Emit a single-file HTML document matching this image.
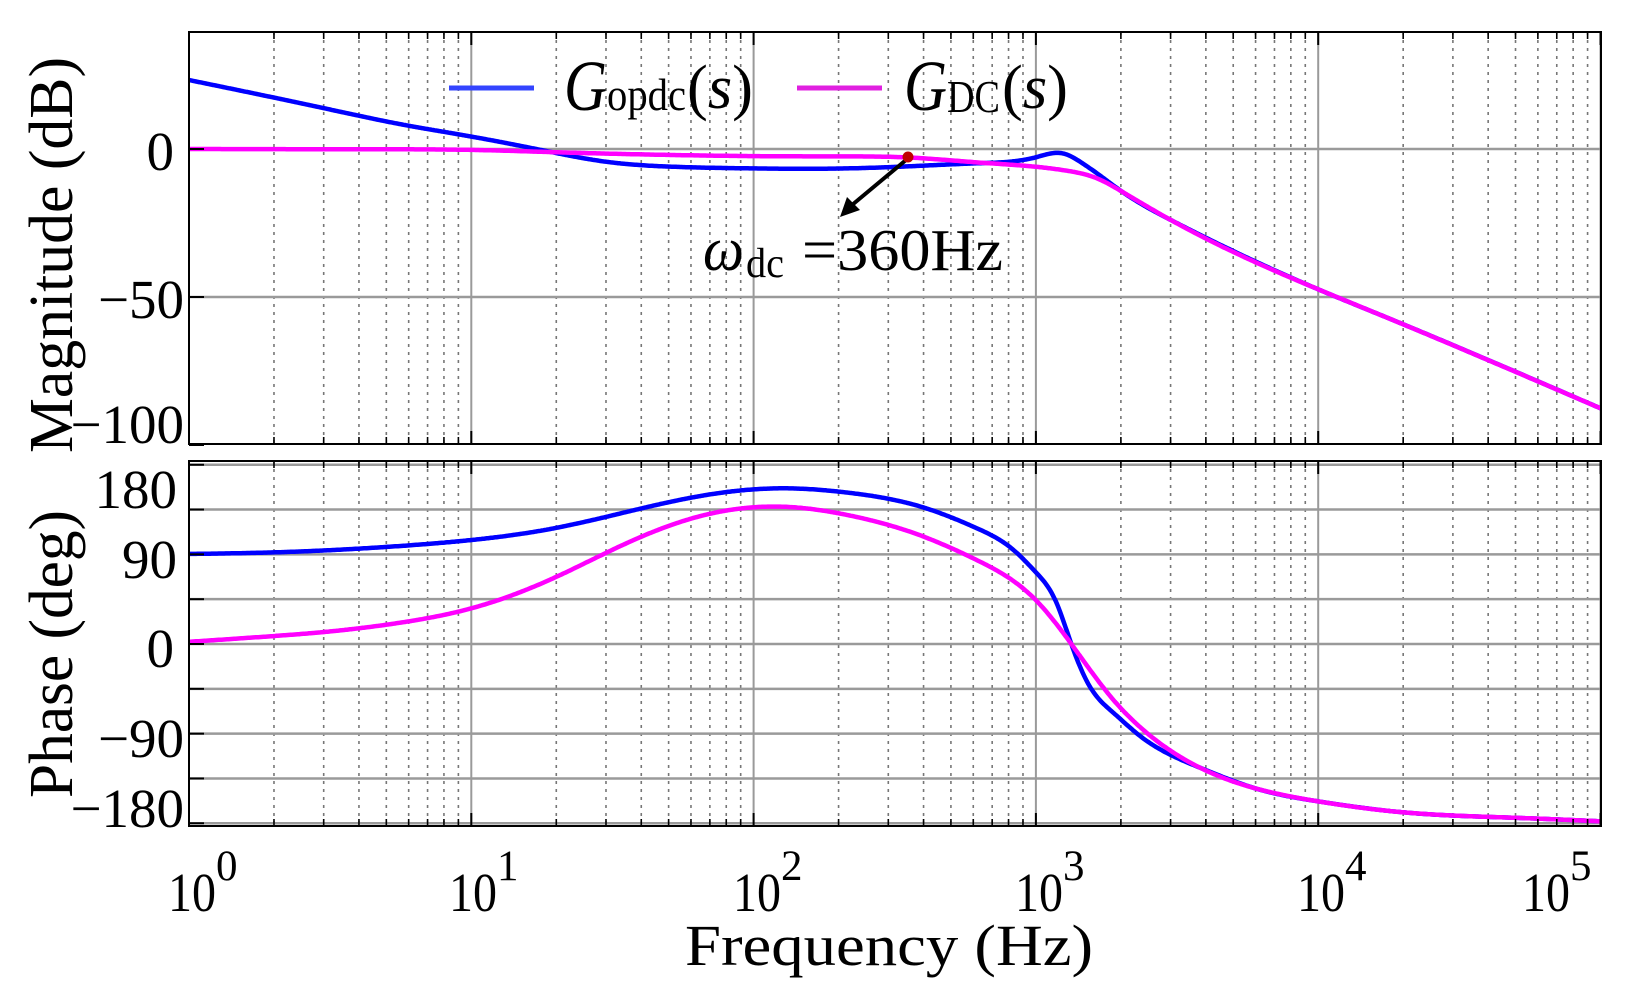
<!DOCTYPE html>
<html><head><meta charset="utf-8"><style>
html,body{margin:0;padding:0;background:#fff;}
svg{display:block;font-family:"Liberation Serif","Times New Roman",serif;}
</style></head><body>
<svg id="s" width="1633" height="1000" viewBox="0 0 1633 1000" xmlns="http://www.w3.org/2000/svg" font-family="Liberation Serif, serif">
<rect width="1633" height="1000" fill="#fff"/>
<g id="grid"></g>
<g id="curves"></g>
<g id="frame"></g>
<g font-size="55" fill="#000">
<text x="174" y="170" text-anchor="end">0</text>
<text x="184" y="318" text-anchor="end">−50</text>
<text x="184" y="443" text-anchor="end">−100</text>
<text x="177" y="508" text-anchor="end">180</text>
<text x="177" y="578" text-anchor="end">90</text>
<text x="174" y="667" text-anchor="end">0</text>
<text x="184" y="757" text-anchor="end">−90</text>
<text x="184" y="827" text-anchor="end">−180</text>
</g>
<g fill="#000">
<text x="168" y="911" font-size="55" textLength="48" lengthAdjust="spacingAndGlyphs">10</text><text x="216" y="880" font-size="43">0</text>
<text x="449" y="911" font-size="55" textLength="48" lengthAdjust="spacingAndGlyphs">10</text><text x="497" y="880" font-size="43">1</text>
<text x="733" y="911" font-size="55" textLength="48" lengthAdjust="spacingAndGlyphs">10</text><text x="781" y="880" font-size="43">2</text>
<text x="1015" y="911" font-size="55" textLength="48" lengthAdjust="spacingAndGlyphs">10</text><text x="1063" y="880" font-size="43">3</text>
<text x="1297" y="911" font-size="55" textLength="48" lengthAdjust="spacingAndGlyphs">10</text><text x="1345" y="880" font-size="43">4</text>
<text x="1522" y="911" font-size="55" textLength="48" lengthAdjust="spacingAndGlyphs">10</text><text x="1570" y="880" font-size="43">5</text>
<text x="685" y="965" font-size="58" textLength="408" lengthAdjust="spacingAndGlyphs">Frequency  (Hz)</text>
<text transform="translate(72,453) rotate(-90)" font-size="62" textLength="396" lengthAdjust="spacingAndGlyphs">Magnitude (dB)</text>
<text transform="translate(72,798) rotate(-90)" font-size="62" textLength="288" lengthAdjust="spacingAndGlyphs">Phase (deg)</text>
</g>
<line x1="449" y1="88" x2="534" y2="88" stroke="#3344ff" stroke-width="5"/>
<text x="564" y="110" font-size="72" font-style="italic" textLength="43" lengthAdjust="spacingAndGlyphs">G</text>
<text x="607" y="110" font-size="46" textLength="79" lengthAdjust="spacingAndGlyphs">opdc</text>
<text x="687" y="108" font-size="62" textLength="66" lengthAdjust="spacingAndGlyphs">(<tspan font-style="italic">s</tspan>)</text>
<line x1="797" y1="88" x2="882" y2="88" stroke="#e020e0" stroke-width="5"/>
<text x="904" y="110" font-size="72" font-style="italic" textLength="43" lengthAdjust="spacingAndGlyphs">G</text>
<text x="947" y="112" font-size="46" textLength="53" lengthAdjust="spacingAndGlyphs">DC</text>
<text x="1002" y="108" font-size="62" textLength="66" lengthAdjust="spacingAndGlyphs">(<tspan font-style="italic">s</tspan>)</text>
<text x="703" y="270" font-size="62" font-style="italic" textLength="41" lengthAdjust="spacingAndGlyphs">ω</text>
<text x="746" y="277" font-size="42" textLength="38" lengthAdjust="spacingAndGlyphs">dc</text>
<text x="802" y="270" font-size="59" textLength="201" lengthAdjust="spacingAndGlyphs">=360Hz</text>
<line x1="906" y1="160" x2="852" y2="205" stroke="#000" stroke-width="4"/>
<polygon points="840,217 847,197 860,210" fill="#000"/>
<circle cx="908" cy="157" r="5.5" fill="#c00000"/>
</svg>
<script>
var L=189,R=1601,D=282.3;
function X(f){return L+D*Math.log10(f);}
function yM(db){return 149-2.96*db;}
function yP(d){return 644-0.996*d;}
var ns="http://www.w3.org/2000/svg";
function el(p,t,a){var e=document.createElementNS(ns,t);for(var k in a)e.setAttribute(k,a[k]);document.getElementById(p).appendChild(e);return e;}
var panels=[[32,444],[461,826]];
panels.forEach(function(P){
 for(var d=0;d<=5;d++)for(var m=1;m<10;m++){var f=m*Math.pow(10,d);var x=X(f);if(x>R+0.5)continue;
  if(m==1){el("grid","line",{x1:x,y1:P[0],x2:x,y2:P[1],stroke:"#9a9a9a","stroke-width":2});
   el("frame","line",{x1:x,y1:P[0],x2:x,y2:P[0]+13,stroke:"#000","stroke-width":2});
   el("frame","line",{x1:x,y1:P[1],x2:x,y2:P[1]-13,stroke:"#000","stroke-width":2});}
  else{el("grid","line",{x1:x,y1:P[0],x2:x,y2:P[1],stroke:"#777","stroke-width":1.6,"stroke-dasharray":"3,5"});
   el("frame","line",{x1:x,y1:P[0],x2:x,y2:P[0]+7,stroke:"#000","stroke-width":1.6});
   el("frame","line",{x1:x,y1:P[1],x2:x,y2:P[1]-7,stroke:"#000","stroke-width":1.6});}
 }
});
[0,-50].forEach(function(v){var y=yM(v);el("grid","line",{x1:L,y1:y,x2:R,y2:y,stroke:"#9a9a9a","stroke-width":2.5});});
[0,-50,-100].forEach(function(v){var y=yM(v);el("frame","line",{x1:L,y1:y,x2:L+15,y2:y,stroke:"#000","stroke-width":2});});
for(var d=-180;d<=180;d+=45){var y=yP(d);el("grid","line",{x1:L,y1:y,x2:R,y2:y,stroke:"#9a9a9a","stroke-width":2.5});
 el("frame","line",{x1:L,y1:y,x2:L+15,y2:y,stroke:"#000","stroke-width":2});}
panels.forEach(function(P){el("frame","rect",{x:L,y:P[0],width:R-L,height:P[1]-P[0],fill:"none",stroke:"#000","stroke-width":2});});
function spline(pts){var n=pts.length,xs=pts.map(function(p){return Math.log10(p[0]);}),ys=pts.map(function(p){return p[1];});
 var h=[],a=[],l=[1],mu=[0],z=[0],c=new Array(n).fill(0),b=[],dd=[];
 for(var i=0;i<n-1;i++)h.push(xs[i+1]-xs[i]);
 for(i=1;i<n-1;i++)a[i]=3/h[i]*(ys[i+1]-ys[i])-3/h[i-1]*(ys[i]-ys[i-1]);
 for(i=1;i<n-1;i++){l[i]=2*(xs[i+1]-xs[i-1])-h[i-1]*mu[i-1];mu[i]=h[i]/l[i];z[i]=(a[i]-h[i-1]*z[i-1])/l[i];}
 for(i=n-2;i>=0;i--){if(i>0)c[i]=z[i]-mu[i]*c[i+1];b[i]=(ys[i+1]-ys[i])/h[i]-h[i]*(c[i+1]+2*c[i])/3;dd[i]=(c[i+1]-c[i])/(3*h[i]);}
 return function(f){var x=Math.log10(f);var i=0;while(i<n-2&&x>xs[i+1])i++;var t=x-xs[i];return ys[i]+b[i]*t+c[i]*t*t+dd[i]*t*t*t;};}
var hiMag=[[2018,-14.4],[3007,-24],[10000,-47.4],[16560,-56],[100000,-87.6]];
var bM=spline([[1,23.3],[3,13.8],[5.6,8.4],[10,4.2],[17.6,-0.3],[30,-4.3],[52,-6],[90,-6.5],[250,-6.4],[634,-4.8],[1000,-2.8],[1248,-1.5],[1450,-4.6],[1645,-8.2]].concat(hiMag));
var mM=spline([[1,0],[5,-0.1],[10,-0.3],[20,-1.1],[50,-2],[100,-2.4],[200,-2.5],[360,-2.9],[634,-4.6],[1000,-6],[1300,-7.4],[1645,-9.9]].concat(hiMag));
var hiP=[[3800,-124],[6000,-145],[10000,-158],[20000,-169],[50000,-174.5],[100000,-178]];
var bP=spline([[1,90.4],[2,92],[5.6,98.4],[10,104.4],[19.5,116],[36,133],[66,149],[130,156.3],[215,152],[390,138],[620,116],[820,96],[1000,72],[1180,42],[1335,0],[1540,-41],[1880,-69],[2330,-92]].concat(hiP));
var mP=spline([[1,2.2],[2,8],[3,12],[5.6,21.4],[10,35.8],[19.5,66],[36,102],[66,129],[128,137.8],[215,129.5],[390,109],[620,84],[1000,44],[1335,0],[1880,-56],[2330,-83]].concat(hiP));
function path(fn,ym){var s="";for(var i=0;i<=1000;i++){var lx=5*i/1000;var f=Math.pow(10,lx);s+=(i?"L":"M")+X(f).toFixed(1)+","+ym(fn(f)).toFixed(1);}return s;}
el("curves","path",{d:path(bM,yM),fill:"none",stroke:"#0000ff","stroke-width":4.5});
el("curves","path",{d:path(mM,yM),fill:"none",stroke:"#ff00ff","stroke-width":4.5});
el("curves","path",{d:path(bP,yP),fill:"none",stroke:"#0000ff","stroke-width":4.5});
el("curves","path",{d:path(mP,yP),fill:"none",stroke:"#ff00ff","stroke-width":4.5});
</script>
</body></html>
